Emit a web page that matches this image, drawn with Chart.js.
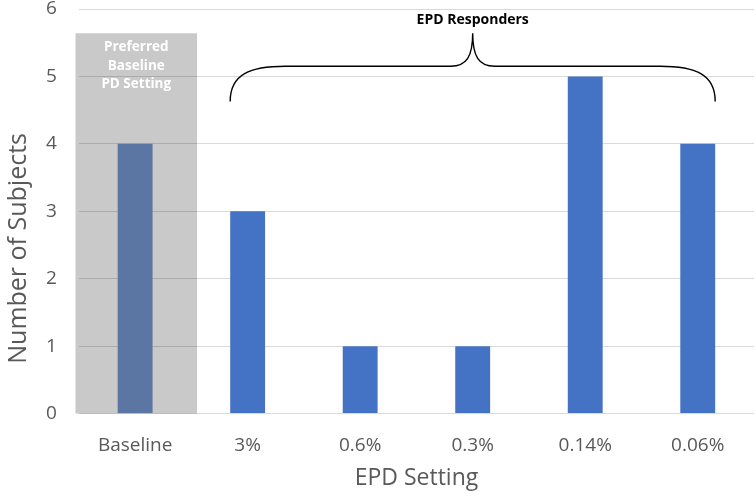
<!DOCTYPE html>
<html>
<head>
<meta charset="utf-8">
<script src="https://cdn.jsdelivr.net/npm/chart.js@4"></script>
<style>
  html, body { margin: 0; padding: 0; background: #fff; }
  #wrap { width: 756px; height: 497px; }
</style>
</head>
<body>
<div id="wrap"><canvas id="chart" width="756" height="497"></canvas></div>
<script>
// data
const categories = ['Baseline', '3%', '0.6%', '0.3%', '0.14%', '0.06%'];
const subjects = [4, 3, 1, 1, 5, 4];
const yTicks = [0, 1, 2, 3, 4, 5, 6];
const yTitle = 'Number of Subjects';

const barColors = ['#5b76a3', '#4472c4', '#4472c4', '#4472c4', '#4472c4', '#4472c4'];
const tickColor = '#595959';
const fontFamily = '"Open Sans", "Noto Sans", sans-serif';

// grey box behind the baseline bar + brace over the responders
const notes = {
    id: 'notes',
    beforeDraw(chart) {
        const c = chart.ctx, x = chart.scales.x, y = chart.scales.y;
        const step = x.getPixelForValue(1) - x.getPixelForValue(0);
        const left = x.getPixelForValue(0) - step * 0.53;
        const right = x.getPixelForValue(0) + step * 0.55;
        const top = y.getPixelForValue(5.64);
        c.save();
        c.fillStyle = '#c9c9c9';
        c.fillRect(left, top, right - left, y.getPixelForValue(0) - top);
        c.restore();
    },
    afterDraw(chart) {
        const c = chart.ctx, x = chart.scales.x, y = chart.scales.y;
        const step = x.getPixelForValue(1) - x.getPixelForValue(0);
        const cx0 = x.getPixelForValue(0);
        const top = y.getPixelForValue(5.64);
        c.save();
        c.fillStyle = '#ffffff';
        c.font = 'bold 13.5px ' + fontFamily;
        c.textAlign = 'center';
        c.textBaseline = 'middle';
        ['Preferred', 'Baseline', 'PD Setting'].forEach((t, i) => {
            c.fillText(t, cx0 + step * 0.01, top + 14 + i * 18.5);
        });

        const bars = chart.getDatasetMeta(0).data;
        const xl = bars[1].x - bars[1].width / 2;
        const xr = bars[5].x + bars[5].width / 2;
        const xm = (xl + xr) / 2;
        const yEnd = y.getPixelForValue(4.63);
        const yMid = y.getPixelForValue(5.15);
        const yPeak = y.getPixelForValue(5.64);
        const r = 55;
        c.strokeStyle = '#000000';
        c.lineWidth = 1.4;
        c.beginPath();
        c.moveTo(xl, yEnd);
        c.bezierCurveTo(xl, yMid + 8, xl + 20, yMid, xl + r, yMid);
        c.lineTo(xm - 22, yMid);
        c.bezierCurveTo(xm - 6, yMid, xm, yMid - 10, xm, yPeak);
        c.bezierCurveTo(xm, yMid - 10, xm + 6, yMid, xm + 22, yMid);
        c.lineTo(xr - r, yMid);
        c.bezierCurveTo(xr - 20, yMid, xr, yMid + 8, xr, yEnd);
        c.stroke();

        c.fillStyle = '#000000';
        c.font = 'bold 14px ' + fontFamily;
        c.fillText('EPD Responders', xm, yPeak - 13);

        // y title sits a bit below the middle of the axis in the original
        c.translate(19, y.getPixelForValue(2.45));
        c.rotate(-Math.PI / 2);
        c.fillStyle = tickColor;
        c.font = '25px ' + fontFamily;
        c.fillText(yTitle, 0, 0);
        c.restore();
    }
};

new Chart(document.getElementById('chart'), {
    type: 'bar',
    data: {
        labels: categories,
        datasets: [{
            data: subjects,
            backgroundColor: barColors,
            borderWidth: 0,
            categoryPercentage: 1,
            barPercentage: 0.31
        }]
    },
    options: {
        responsive: false,
        animation: false,
        layout: { padding: { top: 0, right: 2, left: 0, bottom: 5 } },
        plugins: { legend: { display: false }, tooltip: { enabled: false } },
        scales: {
            x: {
                afterFit(axis) { axis.height -= 21; },
                grid: { display: false, drawTicks: false },
                border: { display: false },
                ticks: { color: tickColor, font: { family: fontFamily, size: 19 }, padding: 21 },
                title: {
                    display: true, text: 'EPD Setting', color: tickColor,
                    font: { family: fontFamily, size: 23 }, padding: { top: 7, bottom: 0 }
                }
            },
            y: {
                min: 0, max: 6,
                afterBuildTicks(axis) { axis.ticks = yTicks.map(v => ({ value: v })); },
                afterFit(axis) { axis.paddingTop = 9; axis.paddingBottom = 10; axis.width -= 9; },
                grid: { color: 'rgba(0,0,0,0.15)', drawTicks: false, lineWidth: 1 },
                border: { display: false },
                ticks: { color: tickColor, font: { family: fontFamily, size: 19 }, padding: 22 },
                title: {
                    // space kept here, text painted by the notes plugin
                    display: true, text: yTitle, color: 'rgba(0,0,0,0)',
                    font: { family: fontFamily, size: 25 }, padding: { top: 3, bottom: 0 }
                }
            }
        }
    },
    plugins: [notes]
});
</script>
</body>
</html>
